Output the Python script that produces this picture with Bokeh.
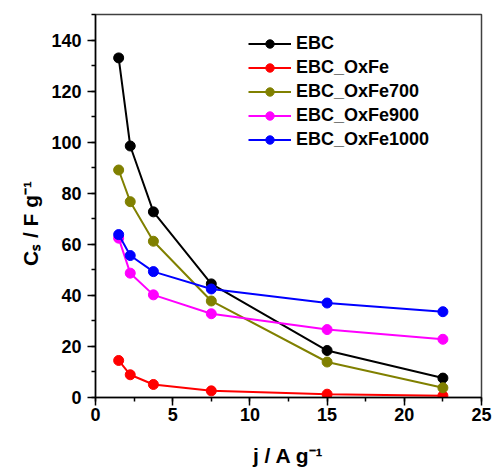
from bokeh.plotting import figure
from bokeh.models import Range1d, SingleIntervalTicker, Legend
from bokeh.embed import file_html
from bokeh.resources import INLINE

# ---- data ----
current_density = [1.5, 2.25, 3.75, 7.5, 15, 22.5]
series_names = ["EBC", "EBC_OxFe", "EBC_OxFe700", "EBC_OxFe900", "EBC_OxFe1000"]
ebc = [133.0, 98.5, 72.7, 44.5, 18.4, 7.6]
ebc_oxfe = [14.5, 8.9, 5.1, 2.6, 1.3, 0.7]
ebc_oxfe700 = [89.1, 76.7, 61.2, 37.8, 13.9, 3.8]
ebc_oxfe900 = [62.4, 48.7, 40.2, 32.8, 26.6, 22.8]
ebc_oxfe1000 = [63.8, 55.6, 49.3, 42.5, 37.0, 33.6]
series_colors = ["#000000", "#FF0000", "#808000", "#FF00FF", "#0000FF"]
x_label = "j / A g\u207b\u00b9"
y_label = "C\u209b / F g\u207b\u00b9" + "\u00a0" * 6
x_ticks_interval = 5
y_ticks_interval = 20

FONT = "Liberation Sans"

p = figure(width=493, height=470, output_backend="svg", toolbar_location=None,
           x_range=Range1d(0, 25), y_range=Range1d(0, 150),
           min_border_left=95, min_border_right=12, min_border_top=14, min_border_bottom=73)
p.background_fill_color = "white"
p.border_fill_color = "white"
p.xgrid.visible = False
p.ygrid.visible = False
p.outline_line_color = "#404040"
p.outline_line_width = 1.5

p.xaxis.ticker = SingleIntervalTicker(interval=x_ticks_interval, num_minor_ticks=2)
p.yaxis.ticker = SingleIntervalTicker(interval=y_ticks_interval, num_minor_ticks=2)
for ax in (p.xaxis[0], p.yaxis[0]):
    ax.axis_line_color = "black"
    ax.axis_line_width = 1.5
    ax.major_tick_line_color = "black"
    ax.major_tick_line_width = 1.5
    ax.minor_tick_line_color = "black"
    ax.minor_tick_line_width = 1.5
    ax.major_tick_in = 0
    ax.major_tick_out = 8
    ax.minor_tick_in = 0
    ax.minor_tick_out = 4
    ax.major_label_text_font = FONT
    ax.major_label_text_font_style = "bold"
    ax.major_label_text_font_size = "18px"
    ax.major_label_text_color = "black"
    ax.axis_label_text_font = FONT
    ax.axis_label_text_font_style = "bold"
    ax.axis_label_text_font_size = "21px"
    ax.axis_label_text_color = "black"
p.yaxis.major_label_standoff = 6
p.xaxis.major_label_standoff = 2
p.xaxis.axis_label = x_label
p.yaxis.axis_label = y_label
p.xaxis.axis_label_standoff = 20
p.yaxis.axis_label_standoff = 6

all_series = [ebc, ebc_oxfe, ebc_oxfe700, ebc_oxfe900, ebc_oxfe1000]
legend_items = []
for name, ys, col in zip(series_names, all_series, series_colors):
    r1 = p.line(current_density, ys, line_color=col, line_width=2)
    r2 = p.scatter(current_density, ys, size=10, fill_color=col, line_color=col, marker="circle")
    legend_items.append((name, [r1, r2]))

legend = Legend(items=legend_items, location=(153, 247),
                label_text_font=FONT, label_text_font_style="bold",
                label_text_font_size="18px", label_text_color="black",
                glyph_width=43, glyph_height=21, label_height=21, spacing=3,
                label_standoff=5, padding=0, margin=0,
                border_line_alpha=0, background_fill_alpha=0)
p.add_layout(legend)

open("out.html", "w").write(file_html(p, INLINE))
